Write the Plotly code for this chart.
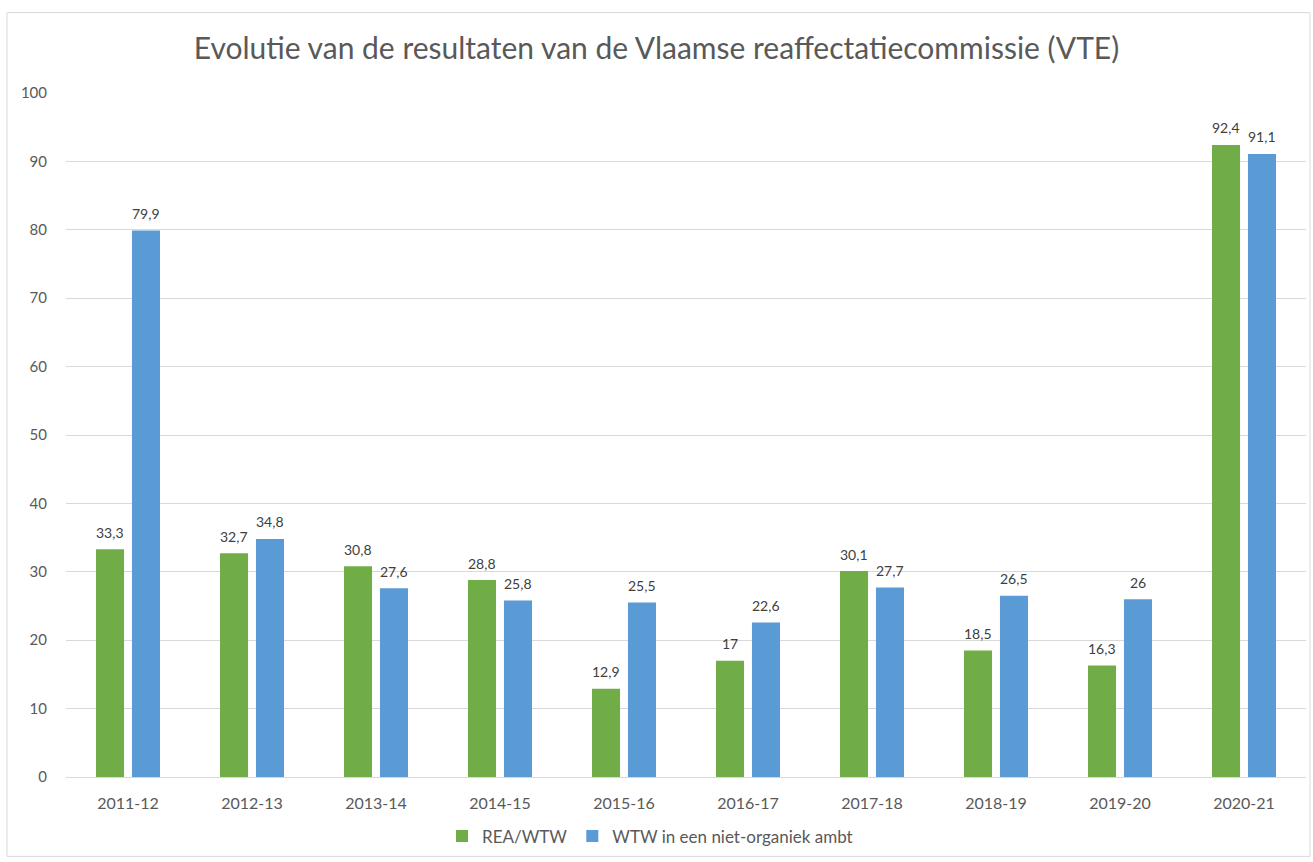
import plotly.graph_objects as go

categories = ["2011-12", "2012-13", "2013-14", "2014-15", "2015-16",
              "2016-17", "2017-18", "2018-19", "2019-20", "2020-21"]
rea_wtw = [33.3, 32.7, 30.8, 28.8, 12.9, 17, 30.1, 18.5, 16.3, 92.4]
wtw_niet_organiek = [79.9, 34.8, 27.6, 25.8, 25.5, 22.6, 27.7, 26.5, 26, 91.1]
y_ticks = [0, 10, 20, 30, 40, 50, 60, 70, 80, 90, 100]

def fmt(v):
    return f"{v:g}".replace(".", ",")

FONT = "Lato, Open Sans, sans-serif"
GREY = "#595959"
LABEL = "#404040"

fig = go.Figure()
fig.add_trace(go.Bar(
    x=categories, y=rea_wtw, name="REA/WTW",
    marker=dict(color="#70AD47", line=dict(width=0)),
))
fig.add_trace(go.Bar(
    x=categories, y=wtw_niet_organiek, name="WTW in een niet-organiek ambt",
    marker=dict(color="#5B9BD5", line=dict(width=0)),
))

# data labels above each bar (positioned at the data value, shifted to the bar in its group)
for series, shift in ((rea_wtw, -18), (wtw_niet_organiek, 18)):
    for cat, val in zip(categories, series):
        fig.add_annotation(x=cat, y=val, xref="x", yref="y", text=fmt(val),
                           showarrow=False, xshift=shift, yshift=17, yanchor="middle",
                           font=dict(size=14, color=LABEL, family=FONT))

L, R, T, B = 66, 7, 93, 80
W, H = 1313, 862
pw, ph = W - L - R, H - T - B

fig.update_layout(
    width=W, height=H,
    margin=dict(l=L, r=R, t=T, b=B),
    paper_bgcolor="white", plot_bgcolor="white",
    barmode="group", bargap=0.42, bargroupgap=0.22,
    title=dict(text="Evolutie van de resultaten van de Vlaamse reaffectatiecommissie (VTE)",
               x=0.5, xanchor="center", y=1 - 48 / H, yanchor="middle",
               font=dict(size=30, color=GREY, family=FONT)),
    font=dict(family=FONT, color=GREY, size=15),
    legend=dict(orientation="h", x=(650 - L) / pw, xanchor="center", y=-(840 - 780) / ph,
                yanchor="middle", font=dict(size=17, color=GREY, family=FONT),
                traceorder="normal"),
    xaxis=dict(type="category", showgrid=False, showline=True, linecolor="#D9D9D9",
               linewidth=1, ticks="", tickfont=dict(size=16, color=GREY),
               ticklabelstandoff=12),
    yaxis=dict(range=[0, 100], tickvals=y_ticks, showgrid=True, gridcolor="#D9D9D9",
               gridwidth=1, zeroline=False, showline=False, ticks="",
               tickfont=dict(size=15, color=GREY), ticklabelstandoff=18),
    showlegend=True,
)

fig.add_shape(type="rect", xref="paper", yref="paper",
              x0=(7 - L) / pw, x1=(1310 - L) / pw,
              y0=-(862 - (T + ph)) / ph, y1=1 + (T - 12) / ph,
              line=dict(color="#D9D9D9", width=1), fillcolor="rgba(0,0,0,0)", layer="below")

fig.write_html("out.html", config={"displayModeBar": False},
               post_script="document.body.style.margin='0';")
